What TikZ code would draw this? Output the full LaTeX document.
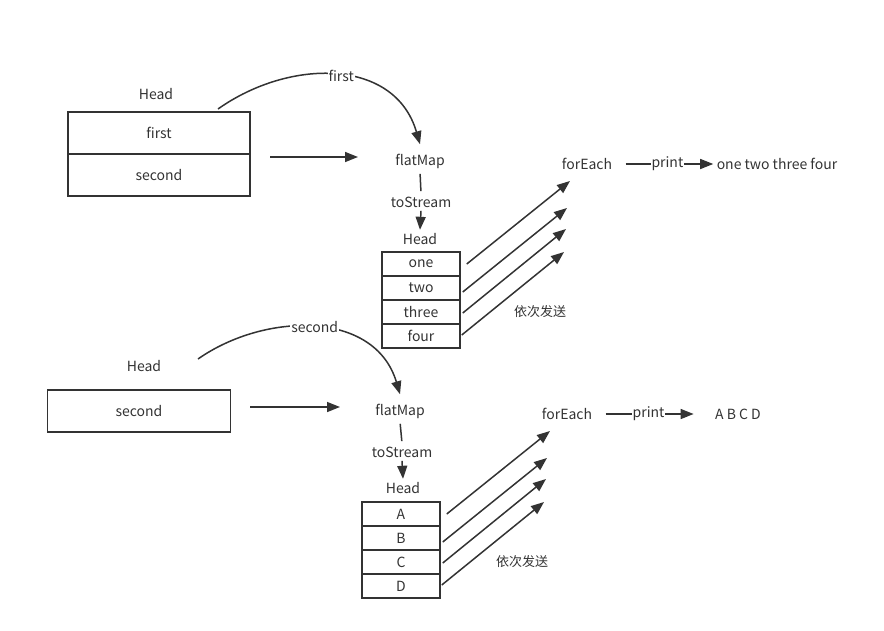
\documentclass[tikz,border=0pt]{standalone}
\usepackage{fontspec}
\setmainfont{Noto Sans CJK SC}
\usetikzlibrary{arrows.meta}
\definecolor{ink}{HTML}{333333}
\tikzset{
  every node/.style={text=ink, font=\fontsize{14}{16}\selectfont},
  cell/.style={draw=ink, line width=1.5pt, minimum width=78pt, minimum height=24pt, inner sep=0pt},
  bigcell/.style={cell, minimum width=182pt, minimum height=42pt},
  ln/.style={draw=ink, line width=1.5pt},
  arr/.style={ln, -{Triangle[length=13pt,width=10pt]}},
  lbl/.style={fill=white, inner sep=1pt},
  zh/.style={font=\fontsize{13}{15}\selectfont},
}
\begin{document}
\begin{tikzpicture}[x=1pt, y=-1pt]
\useasboundingbox (0,0) rectangle (884,630);

% first stream
\node (headA) at (156,94) {Head};
\node[bigcell] (first) at (159,133) {first};
\node[bigcell] (second) at (159,175) {second};
\coordinate (curveA) at (218,109);
\coordinate (inA) at (270,157);
\coordinate (outA) at (358,157);
\node (flatA) at (420,161) {flatMap};
\node (toA) at (421,202) {toStream};
\node (headL) at (420,239) {Head};
\foreach \t [count=\i] in {one,two,three,four}
  \node[cell] (l\i) at (421,{240+24*\i}) {\t};
\node[zh] (sendA) at (540,312) {依次发送};
\node (feA) at (587,164) {forEach};
\node (resA) at (777,164) {one two three four};
\coordinate (tA1) at (570,181);
\coordinate (tA2) at (567,208);
\coordinate (tA3) at (566,229);
\coordinate (tA4) at (564,252);

\draw[arr] (curveA) .. controls (290,58) and (395,58) .. node[lbl, pos=0.52] {first} ([yshift=6pt]flatA.north);
\draw[arr] (inA) -- (outA);
\draw[ln, shorten <=2pt, shorten >=2pt] (flatA.south) -- (toA.north);
\draw[arr] (toA.south) -- (headL.north);
\draw[arr] ([xshift=6pt]l1.east) -- (tA1);
\draw[arr] ([xshift=2pt,yshift=-4pt]l2.east) -- (tA2);
\draw[arr] ([xshift=2pt,yshift=-1pt]l3.east) -- (tA3);
\draw[arr] ([xshift=1pt,yshift=1pt]l4.east) -- (tA4);
\draw[arr, shorten <=10pt] (feA.east) -- node[lbl, xshift=3pt] {print} (resA.west);

% second stream
\node (headB) at (144,366) {Head};
\node[bigcell, minimum width=183pt] (secondB) at (139,411) {second};
\coordinate (curveB) at (198,359);
\coordinate (inB) at (250,407);
\coordinate (outB) at (340,407);
\node (flatB) at (400,411) {flatMap};
\node (toB) at (402,452) {toStream};
\node (headM) at (403,488) {Head};
\foreach \t [count=\i] in {A,B,C,D}
  \node[cell] (m\i) at (401,{490+24*\i}) {\t};
\node[zh] (sendB) at (522,562) {依次发送};
\node (feB) at (567,414) {forEach};
\node (resB) at (738,414) {A B C D};
\coordinate (tB1) at (550,431);
\coordinate (tB2) at (547,458);
\coordinate (tB3) at (546,479);
\coordinate (tB4) at (544,502);

\draw[arr] (curveB) .. controls (265,312) and (375,310) .. node[lbl, pos=0.5] {second} ([yshift=6pt]flatB.north);
\draw[arr] (inB) -- (outB);
\draw[ln, shorten <=2pt, shorten >=2pt] (flatB.south) -- (toB.north);
\draw[arr] (toB.south) -- (headM.north);
\draw[arr] ([xshift=6pt]m1.east) -- (tB1);
\draw[arr] ([xshift=2pt,yshift=-4pt]m2.east) -- (tB2);
\draw[arr] ([xshift=2pt,yshift=-1pt]m3.east) -- (tB3);
\draw[arr] ([xshift=1pt,yshift=1pt]m4.east) -- (tB4);
\draw[arr, shorten <=10pt, shorten >=18pt] (feB.east) -- node[lbl, xshift=-5pt] {print} (resB.west);
\end{tikzpicture}
\end{document}
